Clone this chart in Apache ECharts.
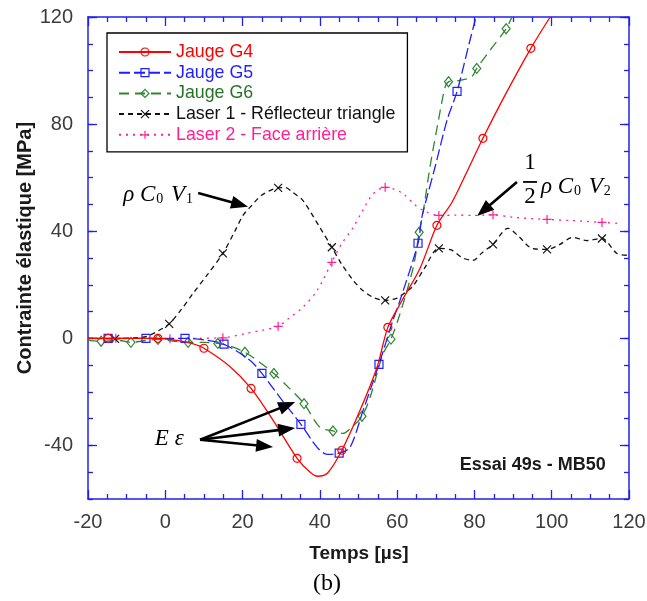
<!DOCTYPE html>
<html><head><meta charset="utf-8">
<script src="https://cdn.jsdelivr.net/npm/echarts@6/dist/echarts.min.js"></script>
<style>html,body{margin:0;padding:0;background:#fff}#c{width:647px;height:601px}</style>
</head><body><div id="c"></div>
<script>
// ---------- DATA ----------
const xTicks = [-20, 0, 20, 40, 60, 80, 100, 120];
const yTicks = [-40, 0, 40, 80, 120];
const seriesNames = ['Jauge G4', 'Jauge G5', 'Jauge G6', 'Laser 1 - Réflecteur triangle', 'Laser 2 - Face arrière'];

const g4Curve = [[-20,0],[-14.8,0],[-8,0],[-1.9,0],[3,-0.8],[7,-2],[10,-3.7],[16.7,-10.5],[22.2,-18.7],[27.9,-30.6],[34.1,-44.8],[37.5,-50],[39.5,-51.5],[42,-50.3],[45.7,-41.8],[50.4,-26.9],[54.8,-10.8],[57.6,4.1],[61.3,14.2],[65.9,26.1],[70.3,42.2],[74.2,50.8],[78,62],[82.2,74.7],[88,91],[94.6,108.3],[99.6,120]];
const g4Marks = [-14.8,-1.9,10,22.2,34.1,45.7,57.6,70.3,82.2,94.6];

const g5Curve = [[-20,0],[-14.8,0],[-5,0],[5.1,0],[10,-0.6],[15.2,-2.2],[21.9,-8.2],[25,-13.1],[30.2,-23.1],[35.1,-32.1],[39.3,-40.7],[41.9,-43.3],[45,-42.9],[47.8,-40.7],[51.2,-26.9],[55.3,-9.7],[58.9,6.7],[60.7,14],[65.4,35.5],[66.4,45.3],[67.7,52.6],[69.8,63.9],[72.9,81.4],[75.5,92.2],[78.9,111.6],[80.4,120]];
const g5Marks = [-14.8,-5,5.1,15.2,25,35.1,45,55.3,65.4,75.5];

const g6Curve = [[-20,-0.8],[-16.6,-1.1],[-12,-0.8],[-8.9,-1.5],[-5,-0.8],[-1.9,-0.4],[2,-1],[5.9,-1.5],[10,-1.5],[13.6,-1.9],[17,-3],[20.6,-5.2],[24,-8.5],[28.1,-13.1],[32,-18.5],[35.9,-24.4],[40,-33.2],[43.4,-34.6],[46,-35.5],[48,-33.5],[50.9,-29.1],[53,-22],[56.3,-6],[58.4,-0.3],[60.7,9],[64.2,26.7],[65.7,39.6],[66.8,47.8],[68.5,64],[70.7,81.5],[72.4,93.8],[73.3,95.8],[76.3,96.3],[79.3,97.7],[80.6,100.8],[84,107.5],[88.2,115.6],[89.7,120]];
const g6Marks = [-16.6,-8.9,-1.9,5.9,13.6,20.6,28.1,35.9,43.4,50.9,58.4,65.7,73.3,80.6,88.2];

const laser1Curve = [[-20,0],[-13,-0.2],[-8,0.2],[-5,0.6],[-2.2,2.5],[1,5.4],[4,10.5],[7.2,16.8],[11,24],[14.9,31.7],[18,40],[20.1,45.9],[21.9,48.9],[25,53.5],[29.2,56.2],[31,56.3],[33,54.5],[35.6,51.5],[40,41.4],[43.1,34],[45.5,28],[48.6,21.7],[51,18],[53.8,15.3],[56.9,14.2],[60,15],[62,17],[64.1,19.5],[67,26],[70.8,33.6],[74,33],[77,30],[79.6,29.1],[82,32],[84.8,35.1],[88.7,41.1],[91.5,38],[94.9,33.6],[98.8,33.2],[102,35],[105.5,37.7],[109,36.5],[113,37.3],[116.9,31.7],[120,31]];
const laser1Marks = [-13,1,14.9,29.2,43.1,56.9,70.8,84.8,98.8,113];

const laser2Curve = [[-20,0],[-12.8,0],[-5,0],[1.2,-0.2],[8,0],[14.9,0.2],[21.1,1.9],[25,3],[29.2,4.5],[32,7.5],[35.6,11.6],[39.3,17.9],[43.1,28.4],[45.5,35],[48.6,41.4],[51,47.5],[53.8,54],[56.9,56.4],[59,55.8],[61.6,54],[64.2,50.4],[66.7,47.8],[70.8,45.9],[75,46],[80,45.9],[84.8,46.1],[90,45.2],[98.8,44.4],[105,44],[113,43.3],[117.7,42.9]];
const laser2Marks = [-12.8,1.2,14.9,29.2,43.1,56.9,70.8,84.8,98.8,113];

// annotation anchors (data coordinates)
const annRhoV1Text = [-10.9, 53.5];
const annRhoV1Arrow = [[8.5, 54.3], [21.4, 49.1]];
const annHalfFrac = [94.4, 65.5, 58.4, 52.8];   // x, y of "1", y of bar, y of "2"
const annRhoV2Text = [97.2, 56.5];
const annRhoV2Arrow = [[91.0, 58.4], [80.7, 45.7]];
const annEText = [-2.7, -37.4];
const annEFrom = [9.0, -37.9];
const annETips = [[33.6, -23.8], [33.6, -33.5], [27.9, -40.6]];
const annEssai = [114.0, -47.2];

// ---------- STYLE ----------
const FRAME = '#2020ee';
const FONT = '"Liberation Sans", Arial, sans-serif';
const SERIF = '"Liberation Serif", "DejaVu Serif", serif';
const looks = [
  {color:'#ff0000', text:'#ff0000', dash:'solid', symbol:'circle', size:8},
  {color:'#1f1fff', text:'#1f1fff', dash:[11,4], symbol:'rect', size:8},
  {color:'#2e862e', text:'#267326', dash:[10,6], symbol:'diamond', size:[8,10]},
  {color:'#111111', text:'#111111', dash:[5,4], symbol:'path://M0,0L10,10M0,10L10,0', size:8},
  {color:'#ff1f96', text:'#ff1f96', dash:[2,5], symbol:'path://M5,0L5,10M0,5L10,5', size:9}
];
const curves = [g4Curve, g5Curve, g6Curve, laser1Curve, laser2Curve];
const marks = [g4Marks, g5Marks, g6Marks, laser1Marks, laser2Marks];

function markData(curve, mk) {
  return curve.map(p => mk.includes(p[0]) ? {value: p} : {value: p, symbol: 'none'});
}

const chart = echarts.init(document.getElementById('c'), null, {renderer: 'canvas'});

const series = seriesNames.map((name, i) => ({
  name: name, type: 'line', data: markData(curves[i], marks[i]),
  xAxisIndex: 0, yAxisIndex: 0,
  smooth: 0.3, showAllSymbol: true,
  symbol: looks[i].symbol, symbolSize: looks[i].size,
  lineStyle: {color: looks[i].color, width: 1.3, type: looks[i].dash},
  itemStyle: {color: 'rgba(255,255,255,0)', borderColor: looks[i].color, borderWidth: 1.2},
  emphasis: {disabled: true}, animation: false,
  z: 10 - i
}));

const xBase = {
  type: 'value', min: -20, max: 120, interval: 20,
  axisLine: {show: true, onZero: false, lineStyle: {color: FRAME, width: 1.5}},
  axisTick: {show: true, inside: true, length: 9, lineStyle: {color: FRAME, width: 1.3}},
  minorTick: {show: true, splitNumber: 4, length: 5, lineStyle: {color: FRAME, width: 1.3}},
  splitLine: {show: false}, minorSplitLine: {show: false}
};
const yMinor = {
  type: 'value', min: -60, max: 120, interval: 10,
  axisLine: {show: true, onZero: false, lineStyle: {color: FRAME, width: 1.5}},
  axisTick: {show: true, inside: true, length: 5, lineStyle: {color: FRAME, width: 1.3}},
  axisLabel: {show: false}, splitLine: {show: false}
};
const yMajor = {
  type: 'value', min: -60, max: 120, interval: 10,
  axisLine: {show: false, onZero: false},
  axisTick: {show: true, inside: true, length: 9, customValues: yTicks, lineStyle: {color: FRAME, width: 1.3}},
  splitLine: {show: false}
};

chart.setOption({
  animation: false,
  backgroundColor: '#fff',
  grid: {left: 88, right: 18, top: 17, bottom: 102, containLabel: false, outerBoundsMode: 'none'},
  legend: {
    left: 107, top: 33, orient: 'vertical', selectedMode: false,
    backgroundColor: '#fff', borderColor: '#000', borderWidth: 1.3,
    padding: [10, 12, 8, 11], itemGap: 2.7, itemWidth: 52, itemHeight: 10,
    textStyle: {fontFamily: FONT, fontSize: 17.8, lineHeight: 18},
    itemStyle: {borderWidth: 1.2},
    data: seriesNames.map((n, i) => ({name: n, textStyle: {color: looks[i].text}}))
  },
  xAxis: [
    Object.assign({}, xBase, {position: 'bottom',
      axisLabel: {show: true, color: '#3c3c3c', fontSize: 20, fontFamily: FONT, margin: 13, customValues: xTicks}}),
    Object.assign({}, xBase, {position: 'top', axisLabel: {show: false}})
  ],
  yAxis: [
    Object.assign({}, yMinor, {position: 'left'}),
    Object.assign({}, yMajor, {position: 'left',
      axisLabel: {show: true, customValues: yTicks, color: '#3c3c3c', fontSize: 20, fontFamily: FONT, margin: 15}}),
    Object.assign({}, yMinor, {position: 'right'}),
    Object.assign({}, yMajor, {position: 'right', axisLabel: {show: false}})
  ],
  series: series
});

// ---------- ANNOTATIONS ----------
const P = (p) => chart.convertToPixel({xAxisIndex: 0, yAxisIndex: 0}, p);
function arrow(a, b, hl, hw, lw) {
  const dx = b[0] - a[0], dy = b[1] - a[1], L = Math.hypot(dx, dy), ux = dx / L, uy = dy / L;
  const bx = b[0] - ux * hl, by = b[1] - uy * hl;
  return [
    {type: 'line', z: 100, shape: {x1: a[0], y1: a[1], x2: bx + ux * 2, y2: by + uy * 2}, style: {stroke: '#000', lineWidth: lw}},
    {type: 'polygon', z: 100, shape: {points: [[b[0], b[1]], [bx - uy * hw, by + ux * hw], [bx + uy * hw, by - ux * hw]]}, style: {fill: '#000'}}
  ];
}
const mathRich = {
  i: {fontFamily: SERIF, fontStyle: 'italic', fontSize: 23, lineHeight: 22, fill: '#000'},
  s: {fontFamily: SERIF, fontSize: 14, lineHeight: 13, fill: '#000', verticalAlign: 'bottom', padding: [0, 2, 0, 1]}
};
const els = [];
const t1 = P(annRhoV1Text);
els.push({type: 'text', z: 100, x: t1[0], y: t1[1], style: {text: '{i|ρ }{i|C}{s|0}{i| V}{s|1}', rich: mathRich, align: 'left', verticalAlign: 'middle'}});
els.push(...arrow(P(annRhoV1Arrow[0]), P(annRhoV1Arrow[1]), 17, 6.5, 2.6));

const f1 = P([annHalfFrac[0], annHalfFrac[1]]);
const fb = P([annHalfFrac[0], annHalfFrac[2]]);
const f2 = P([annHalfFrac[0], annHalfFrac[3]]);
els.push({type: 'text', z: 100, x: f1[0], y: f1[1], style: {text: '1', font: '23px ' + SERIF, fill: '#000', align: 'center', verticalAlign: 'middle'}});
els.push({type: 'rect', z: 100, shape: {x: fb[0] - 7, y: fb[1] - 0.9, width: 14, height: 1.8}, style: {fill: '#000'}});
els.push({type: 'text', z: 100, x: f2[0], y: f2[1], style: {text: '2', font: '23px ' + SERIF, fill: '#000', align: 'center', verticalAlign: 'middle'}});
const t2 = P(annRhoV2Text);
els.push({type: 'text', z: 100, x: t2[0], y: t2[1], style: {text: '{i|ρ }{i|C}{s|0}{i| V}{s|2}', rich: mathRich, align: 'left', verticalAlign: 'middle'}});
els.push(...arrow(P(annRhoV2Arrow[0]), P(annRhoV2Arrow[1]), 17, 6.5, 2.6));

const te = P(annEText);
els.push({type: 'text', z: 100, x: te[0], y: te[1], style: {text: '{i|E ε}', rich: mathRich, align: 'left', verticalAlign: 'middle'}});
const ef = P(annEFrom);
annETips.forEach(t => els.push(...arrow(ef, P(t), 17, 6.5, 2.6)));

const es = P(annEssai);
els.push({type: 'text', z: 100, x: es[0], y: es[1], style: {text: 'Essai 49s - MB50', font: 'bold 18px ' + FONT, fill: '#1a1a1a', align: 'right', verticalAlign: 'middle'}});

els.push({type: 'text', z: 100, x: 359, y: 554, style: {text: 'Temps [µs]', font: 'bold 19px ' + FONT, fill: '#1a1a1a', align: 'center', verticalAlign: 'middle'}});
els.push({type: 'text', z: 100, x: 25, y: 248, rotation: Math.PI / 2, style: {text: 'Contrainte élastique [MPa]', font: 'bold 20px ' + FONT, fill: '#1a1a1a', align: 'center', verticalAlign: 'middle'}});
els.push({type: 'text', z: 100, x: 327, y: 584, style: {text: '(b)', font: '24px ' + SERIF, fill: '#000', align: 'center', verticalAlign: 'middle'}});

chart.setOption({graphic: {elements: els}});
</script>
</body></html>
